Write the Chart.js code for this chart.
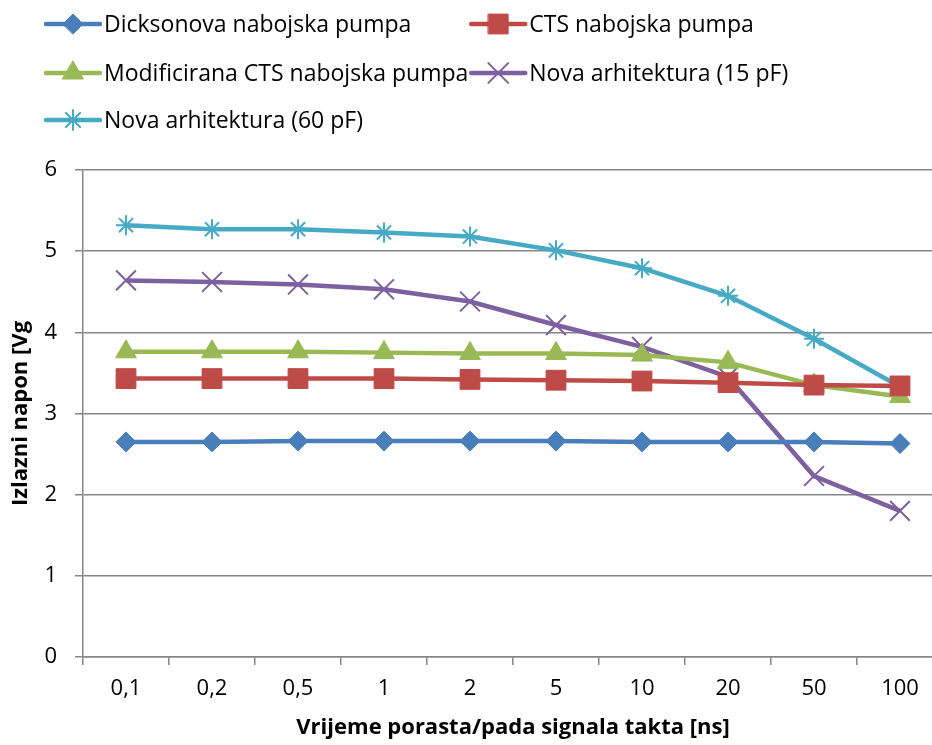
<!DOCTYPE html>
<html>
<head>
<meta charset="utf-8">
<script src="https://cdn.jsdelivr.net/npm/chart.js@4.4.0/dist/chart.umd.min.js"></script>
<style>
  html, body { margin: 0; padding: 0; background: #fff; overflow: hidden; }
  #wrap { width: 943px; height: 745px; }
</style>
</head>
<body>
<div id="wrap"><canvas id="chart" width="943" height="745"></canvas></div>
<script>
// data
const categories = ["0,1", "0,2", "0,5", "1", "2", "5", "10", "20", "50", "100"];
const dickson = [2.65, 2.65, 2.66, 2.66, 2.66, 2.66, 2.65, 2.65, 2.65, 2.63];
const cts = [3.43, 3.43, 3.43, 3.43, 3.42, 3.41, 3.40, 3.38, 3.35, 3.34];
const ctsMod = [3.76, 3.76, 3.76, 3.75, 3.74, 3.74, 3.72, 3.63, 3.35, 3.21];
const nova15 = [4.64, 4.62, 4.59, 4.53, 4.38, 4.09, 3.82, 3.45, 2.23, 1.80];
const nova60 = [5.32, 5.27, 5.27, 5.23, 5.18, 5.01, 4.79, 4.45, 3.92, 3.33];

const seriesNames = [
  "Dicksonova nabojska pumpa",
  "CTS nabojska pumpa",
  "Modificirana CTS nabojska pumpa",
  "Nova arhitektura (15 pF)",
  "Nova arhitektura (60 pF)"
];
const yTicks = [0, 1, 2, 3, 4, 5, 6];

const FONT = "'Open Sans', 'Noto Sans', sans-serif";

function ds(label, data, color, style, radius, bw) {
  return {
    label: label,
    data: data,
    borderColor: color,
    backgroundColor: color,
    borderWidth: 4.5,
    pointStyle: style,
    pointRadius: radius,
    pointHoverRadius: radius,
    pointBorderWidth: bw,
    pointBorderColor: color,
    pointBackgroundColor: color,
    tension: 0
  };
}

// excel-like legend: line sample with the marker in the middle
const excelLegend = {
  id: "excelLegend",
  afterDraw(chart) {
    const ctx = chart.ctx;
    const rows = [24, 73, 120];
    const lineLen = 54;
    ctx.save();
    ctx.font = "23px " + FONT;
    let col1W = 0;
    chart.data.datasets.forEach((d, i) => {
      if (i % 2 === 0) col1W = Math.max(col1W, ctx.measureText(d.label).width);
    });
    const cols = [46, 46 + lineLen + 4 + col1W + 3];
    chart.data.datasets.forEach((d, i) => {
      const x = cols[i % 2];
      const y = rows[Math.floor(i / 2)];
      ctx.strokeStyle = d.borderColor;
      ctx.lineWidth = d.borderWidth;
      ctx.lineCap = "round";
      ctx.beginPath();
      ctx.moveTo(x, y);
      ctx.lineTo(x + lineLen, y);
      ctx.stroke();
      ctx.fillStyle = d.backgroundColor;
      ctx.lineWidth = d.pointBorderWidth;
      Chart.helpers.drawPoint(ctx, {
        pointStyle: d.pointStyle,
        radius: d.pointRadius,
        rotation: 0,
        borderWidth: d.pointBorderWidth
      }, x + lineLen / 2, y);
      ctx.fillStyle = "#000";
      ctx.textAlign = "left";
      ctx.textBaseline = "middle";
      ctx.fillText(d.label, x + lineLen + 4, y + 1);
    });
    ctx.restore();
  }
};

new Chart(document.getElementById("chart"), {
  type: "line",
  data: {
    labels: categories,
    datasets: [
      ds(seriesNames[0], dickson, "#4a7ebb", "rectRot", 10, 1),
      ds(seriesNames[1], cts, "#be4b48", "rect", 14, 1),
      ds(seriesNames[2], ctsMod, "#98b954", "triangle", 12, 1),
      ds(seriesNames[3], nova15, "#7d60a0", "crossRot", 14, 2),
      ds(seriesNames[4], nova60, "#46aac5", "star", 10, 2)
    ]
  },
  options: {
    responsive: false,
    animation: false,
    layout: { autoPadding: false, padding: { top: 170, left: 0, right: 0, bottom: 0 } },
    plugins: {
      legend: { display: false },
      tooltip: { enabled: false }
    },
    scales: {
      x: {
        offset: true,
        grid: {
          offset: true,
          drawOnChartArea: false,
          drawTicks: true,
          tickLength: 8,
          color: "#868686",
          lineWidth: 1.5
        },
        border: { color: "#868686", width: 1.5 },
        ticks: {
          color: "#000",
          padding: 11,
          maxRotation: 0,
          autoSkip: false,
          font: { family: FONT, size: 22 }
        },
        title: {
          display: true,
          text: "Vrijeme porasta/pada signala takta [ns]",
          color: "#000",
          font: { family: FONT, size: 22, weight: "bold" },
          padding: { top: 0, bottom: 4 }
        },
        afterFit(scale) {
          scale.height = 88;
          scale.paddingLeft = 0;
          scale.paddingRight = 0;
        }
      },
      y: {
        min: 0,
        max: 6,
        afterBuildTicks(scale) { scale.ticks = yTicks.map(v => ({ value: v })); },
        grid: {
          color: "#868686",
          lineWidth: 1.5,
          tickLength: 8
        },
        border: { color: "#868686", width: 1.5 },
        ticks: {
          color: "#000",
          padding: 18,
          font: { family: FONT, size: 22 }
        },
        title: {
          display: true,
          text: "Izlazni napon [Vg",
          color: "#000",
          font: { family: FONT, size: 22, weight: "bold" },
          padding: { top: 8, bottom: 0 }
        },
        afterFit(scale) {
          scale.width = 83;
          scale.paddingTop = 0;
          scale.paddingBottom = 0;
        }
      }
    }
  },
  plugins: [excelLegend]
});
</script>
</body>
</html>
